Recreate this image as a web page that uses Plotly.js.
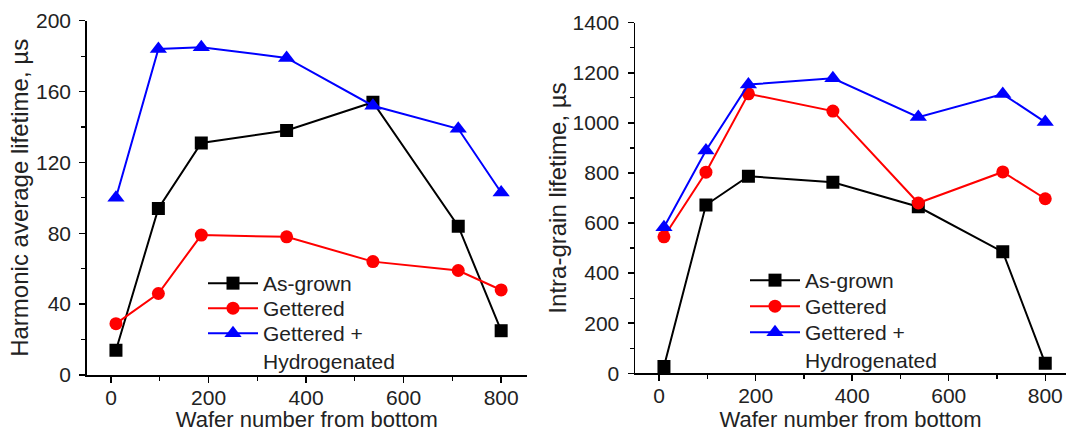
<!DOCTYPE html>
<html>
<head>
<meta charset="utf-8">
<script src="https://cdn.plot.ly/plotly-3.0.1.min.js"></script>
<style>html,body{margin:0;padding:0;background:#fff;}#chart{width:1067px;height:432px;}</style>
</head>
<body>
<div id="chart"></div>
<script>
// Wafer positions (shared by both panels)
const wafer = [10, 97, 185, 360, 537, 712, 800];

// Left panel: harmonic average lifetime (µs)
const harmAsGrown = [14, 94, 131, 138, 154, 84, 25];
const harmGettered = [29, 46, 79, 78, 64, 59, 48];
const harmHydro = [100, 184, 185, 179, 152, 139, 103];

// Right panel: intra-grain lifetime (µs)
const intraAsGrown = [27, 672, 787, 763, 665, 485, 40];
const intraGettered = [545, 803, 1116, 1047, 680, 804, 697];
const intraHydro = [583, 890, 1153, 1178, 1023, 1115, 1003];

const seriesNames = ['As-grown', 'Gettered', 'Gettered +<br>Hydrogenated'];
const xTickVals = [0, 200, 400, 600, 800];
const xMinorVals = [100, 300, 500, 700];
const yTicksL = [0, 40, 80, 120, 160, 200];
const yMinorL = [20, 60, 100, 140, 180];
const yTicksR = [0, 200, 400, 600, 800, 1000, 1200, 1400];
const yMinorR = [100, 300, 500, 700, 900, 1100, 1300];

const FONT = 'Liberation Sans, Arial, sans-serif';
const TXT = '#222';

function tr(y, i, xa, ya, leg) {
  const colors = ['#000000', '#ff0000', '#0000ff'];
  const symbols = ['square', 'circle', 'triangle-up'];
  const sizes = [13, 13, 15];
  return {
    x: wafer, y: y, xaxis: xa, yaxis: ya, legend: leg,
    type: 'scatter', mode: 'lines+markers', name: seriesNames[i],
    line: {color: colors[i], width: 2},
    marker: {color: colors[i], symbol: symbols[i], size: sizes[i]}
  };
}

const data = [
  tr(harmAsGrown, 0, 'x', 'y', 'legend'),
  tr(harmGettered, 1, 'x', 'y', 'legend2'),
  tr(harmHydro, 2, 'x', 'y', 'legend3'),
  tr(intraAsGrown, 0, 'x2', 'y2', 'legend4'),
  tr(intraGettered, 1, 'x2', 'y2', 'legend5'),
  tr(intraHydro, 2, 'x2', 'y2', 'legend6')
];

const W = 1067, H = 432;
const Ldom = [86.7 / W, 527 / W];
const Rdom = [635 / W, 1066 / W];
const LYdom = [1 - 375 / H, 1 - 20.7 / H];
const RYdom = [1 - 373.3 / H, 1 - 22.7 / H];

function baseX(dom, anchor, range) {
  return {
    domain: dom, anchor: anchor, range: range,
    showgrid: false, zeroline: false, showline: true, linecolor: '#000', linewidth: 1.5,
    ticks: 'outside', ticklen: 6, tickwidth: 1.5, tickcolor: '#000',
    tickmode: 'array', tickvals: xTickVals, ticklabelstandoff: -3,
    minor: {tickvals: xMinorVals, ticks: 'outside', ticklen: 4, tickwidth: 1.2, tickcolor: '#000'},
    tickfont: {family: FONT, size: 21, color: TXT},
    title: {text: 'Wafer number from bottom', font: {family: FONT, size: 22, color: TXT}, standoff: 5},
    automargin: false, fixedrange: true
  };
}
function baseY(dom, anchor, range, tickvals, minorvals, title) {
  return {
    domain: dom, anchor: anchor, range: range,
    showgrid: false, zeroline: false, showline: true, linecolor: '#000', linewidth: 1.5,
    ticks: 'outside', ticklen: 6, tickwidth: 1.5, tickcolor: '#000',
    tickmode: 'array', tickvals: tickvals, ticklabelstandoff: 4,
    minor: {tickvals: minorvals, ticks: 'outside', ticklen: 4, tickwidth: 1.2, tickcolor: '#000'},
    tickfont: {family: FONT, size: 21, color: TXT},
    title: {text: title, font: {family: FONT, size: 24, color: TXT}, standoff: -4},
    automargin: false, fixedrange: true
  };
}
function mirrorX(over, anchor, range) {
  return {
    overlaying: over, anchor: anchor, side: 'top', range: range,
    showgrid: false, zeroline: false, showline: true, linecolor: '#777', linewidth: 1.5,
    ticks: 'inside', ticklen: 6, tickwidth: 1.5, tickcolor: '#555',
    tickmode: 'array', tickvals: xTickVals, showticklabels: false,
    minor: {tickvals: xMinorVals, ticks: 'inside', ticklen: 4, tickwidth: 1.2, tickcolor: '#555'},
    fixedrange: true
  };
}
function mirrorY(over, anchor, range, tickvals, minorvals) {
  return {
    overlaying: over, anchor: anchor, side: 'right', range: range,
    showgrid: false, zeroline: false, showline: true, linecolor: '#000', linewidth: 1.5,
    ticks: 'inside', ticklen: 6, tickwidth: 1.5, tickcolor: '#333',
    tickmode: 'array', tickvals: tickvals, showticklabels: false,
    minor: {tickvals: minorvals, ticks: 'inside', ticklen: 4, tickwidth: 1.2, tickcolor: '#333'},
    fixedrange: true
  };
}

const xRangeL = [-50, 853];
const xRangeR = [-50, 843];
const yRangeL = [0, 200];
const yRangeR = [0, 1400];

function leg(xpx, toppx) {
  return {
    font: {family: FONT, size: 21, color: TXT},
    bgcolor: 'rgba(0,0,0,0)', borderwidth: 0,
    xanchor: 'left', yanchor: 'top', itemwidth: 50, valign: 'top',
    itemclick: false, itemdoubleclick: false,
    x: xpx / W, y: 1 - toppx / H
  };
}

const layout = {
  width: W, height: H,
  margin: {l: 0, r: 0, t: 0, b: 0},
  paper_bgcolor: '#fff', plot_bgcolor: '#fff',
  showlegend: true,
  xaxis: baseX(Ldom, 'y', xRangeL),
  yaxis: baseY(LYdom, 'x', yRangeL, yTicksL, yMinorL, 'Harmonic average lifetime, µs'),
  xaxis2: baseX(Rdom, 'y2', xRangeR),
  yaxis2: baseY(RYdom, 'x2', yRangeR, yTicksR, yMinorR, 'Intra-grain lifetime, µs'),
  xaxis3: mirrorX('x', 'y', xRangeL),
  yaxis3: mirrorY('y', 'x', yRangeL, yTicksL, yMinorL),
  xaxis4: mirrorX('x2', 'y2', xRangeR),
  yaxis4: mirrorY('y2', 'x2', yRangeR, yTicksR, yMinorR),
  legend: leg(203, 263),
  legend2: leg(203, 288),
  legend3: leg(203, 313),
  legend4: leg(745, 260),
  legend5: leg(745, 286),
  legend6: leg(745, 312)
};

Plotly.newPlot('chart', data, layout, {staticPlot: true, displayModeBar: false});
</script>
</body>
</html>
